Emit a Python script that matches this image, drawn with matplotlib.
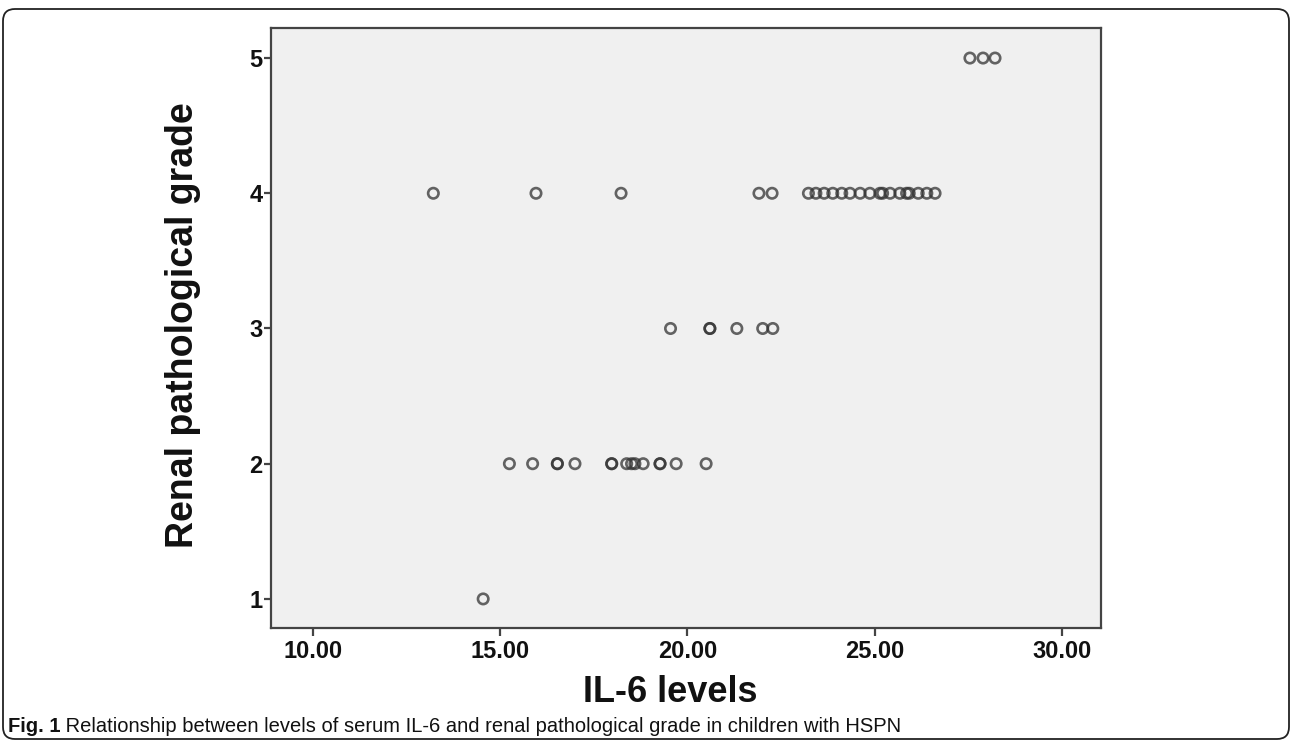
import matplotlib
matplotlib.use("Agg")
import matplotlib.pyplot as plt
from matplotlib.patches import FancyBboxPatch
import numpy as np

# ---- data ----
grade1_x = [14.55]
grade2_x = [15.25, 15.87, 16.53, 16.53, 17.00, 17.98, 17.98, 18.38, 18.51, 18.60,
            18.82, 19.27, 19.27, 19.70, 20.50]
grade3_x = [19.55, 20.60, 20.60, 21.32, 22.01, 22.28]
grade4_x = [13.22, 15.96, 18.23, 21.91, 22.26,
            23.23, 23.43, 23.65, 23.88, 24.12, 24.34, 24.61, 24.87, 25.14, 25.21,
            25.41, 25.67, 25.85, 25.92, 26.16, 26.39, 26.61]
grade5_x = [27.54, 27.89, 28.21]
grades = [1, 2, 3, 4, 5]
x_ticks = [10, 15, 20, 25, 30]
x_tick_labels = ["10.00", "15.00", "20.00", "25.00", "30.00"]
y_ticks = [1, 2, 3, 4, 5]
x_label = "IL-6 levels"
y_label = "Renal pathological grade"
caption_bold = "Fig. 1"
caption_rest = " Relationship between levels of serum IL-6 and renal pathological grade in children with HSPN"

W, H, DPI = 1292, 741, 100
fig = plt.figure(figsize=(W / DPI, H / DPI), dpi=DPI)
fig.patch.set_facecolor("white")

# outer rounded frame
frame = FancyBboxPatch((3 / DPI, 2 / DPI), (1289 - 3) / DPI, (732 - 2) / DPI,
                       boxstyle="round,pad=0,rounding_size=0.12",
                       transform=fig.dpi_scale_trans, fill=False,
                       edgecolor="#222222", linewidth=1.3)
fig.add_artist(frame)

ax = fig.add_axes([270.7 / W, (H - 628) / H, 830 / W, 599.7 / H])
ax.set_facecolor("#f0f0f0")

xs = []
ys = []
for g, arr in zip(grades, [grade1_x, grade2_x, grade3_x, grade4_x, grade5_x]):
    xs.extend(arr)
    ys.extend([g] * len(arr))
ax.scatter(xs, ys, s=56, facecolors="none", edgecolors="#333333",
           linewidths=1.9, alpha=0.75, zorder=3)

ax.set_xlim(8.88, 31.03)
ax.set_ylim(0.785, 5.22)
ax.set_xticks(x_ticks)
ax.set_xticklabels(x_tick_labels)
ax.set_yticks(y_ticks)
for s in ["top", "right", "left", "bottom"]:
    ax.spines[s].set_color("#444444")
    ax.spines[s].set_linewidth(1.6)
ax.tick_params(axis="x", direction="out", length=6, width=1.6, color="#444444",
               pad=3, labelsize=17)
ax.tick_params(axis="y", direction="out", length=5, width=1.6, color="#444444",
               pad=1, labelsize=17)
for lab in ax.get_xticklabels() + ax.get_yticklabels():
    lab.set_fontfamily("Liberation Sans")
    lab.set_fontweight("bold")
    lab.set_color("#111111")

fig.text(670 / W, 1 - 693 / H, x_label, ha="center", va="center",
         fontsize=26, fontweight="bold", family="Liberation Sans", color="#111111")
fig.text(183 / W, 1 - 325 / H, y_label, ha="center", va="center", rotation=90,
         fontsize=27, fontweight="bold", family="Liberation Sans", color="#111111")

t1 = fig.text(8 / W, 1 - 726 / H, caption_bold, ha="left", va="center",
              fontsize=14.5, fontweight="bold", family="Liberation Sans",
              color="#111111")
fig.canvas.draw()
bb = t1.get_window_extent()
fig.text(bb.x1 / W, 1 - 726 / H, caption_rest, ha="left", va="center",
         fontsize=14.5, family="Liberation Sans", color="#111111")

fig.savefig("out.png", dpi=DPI)
